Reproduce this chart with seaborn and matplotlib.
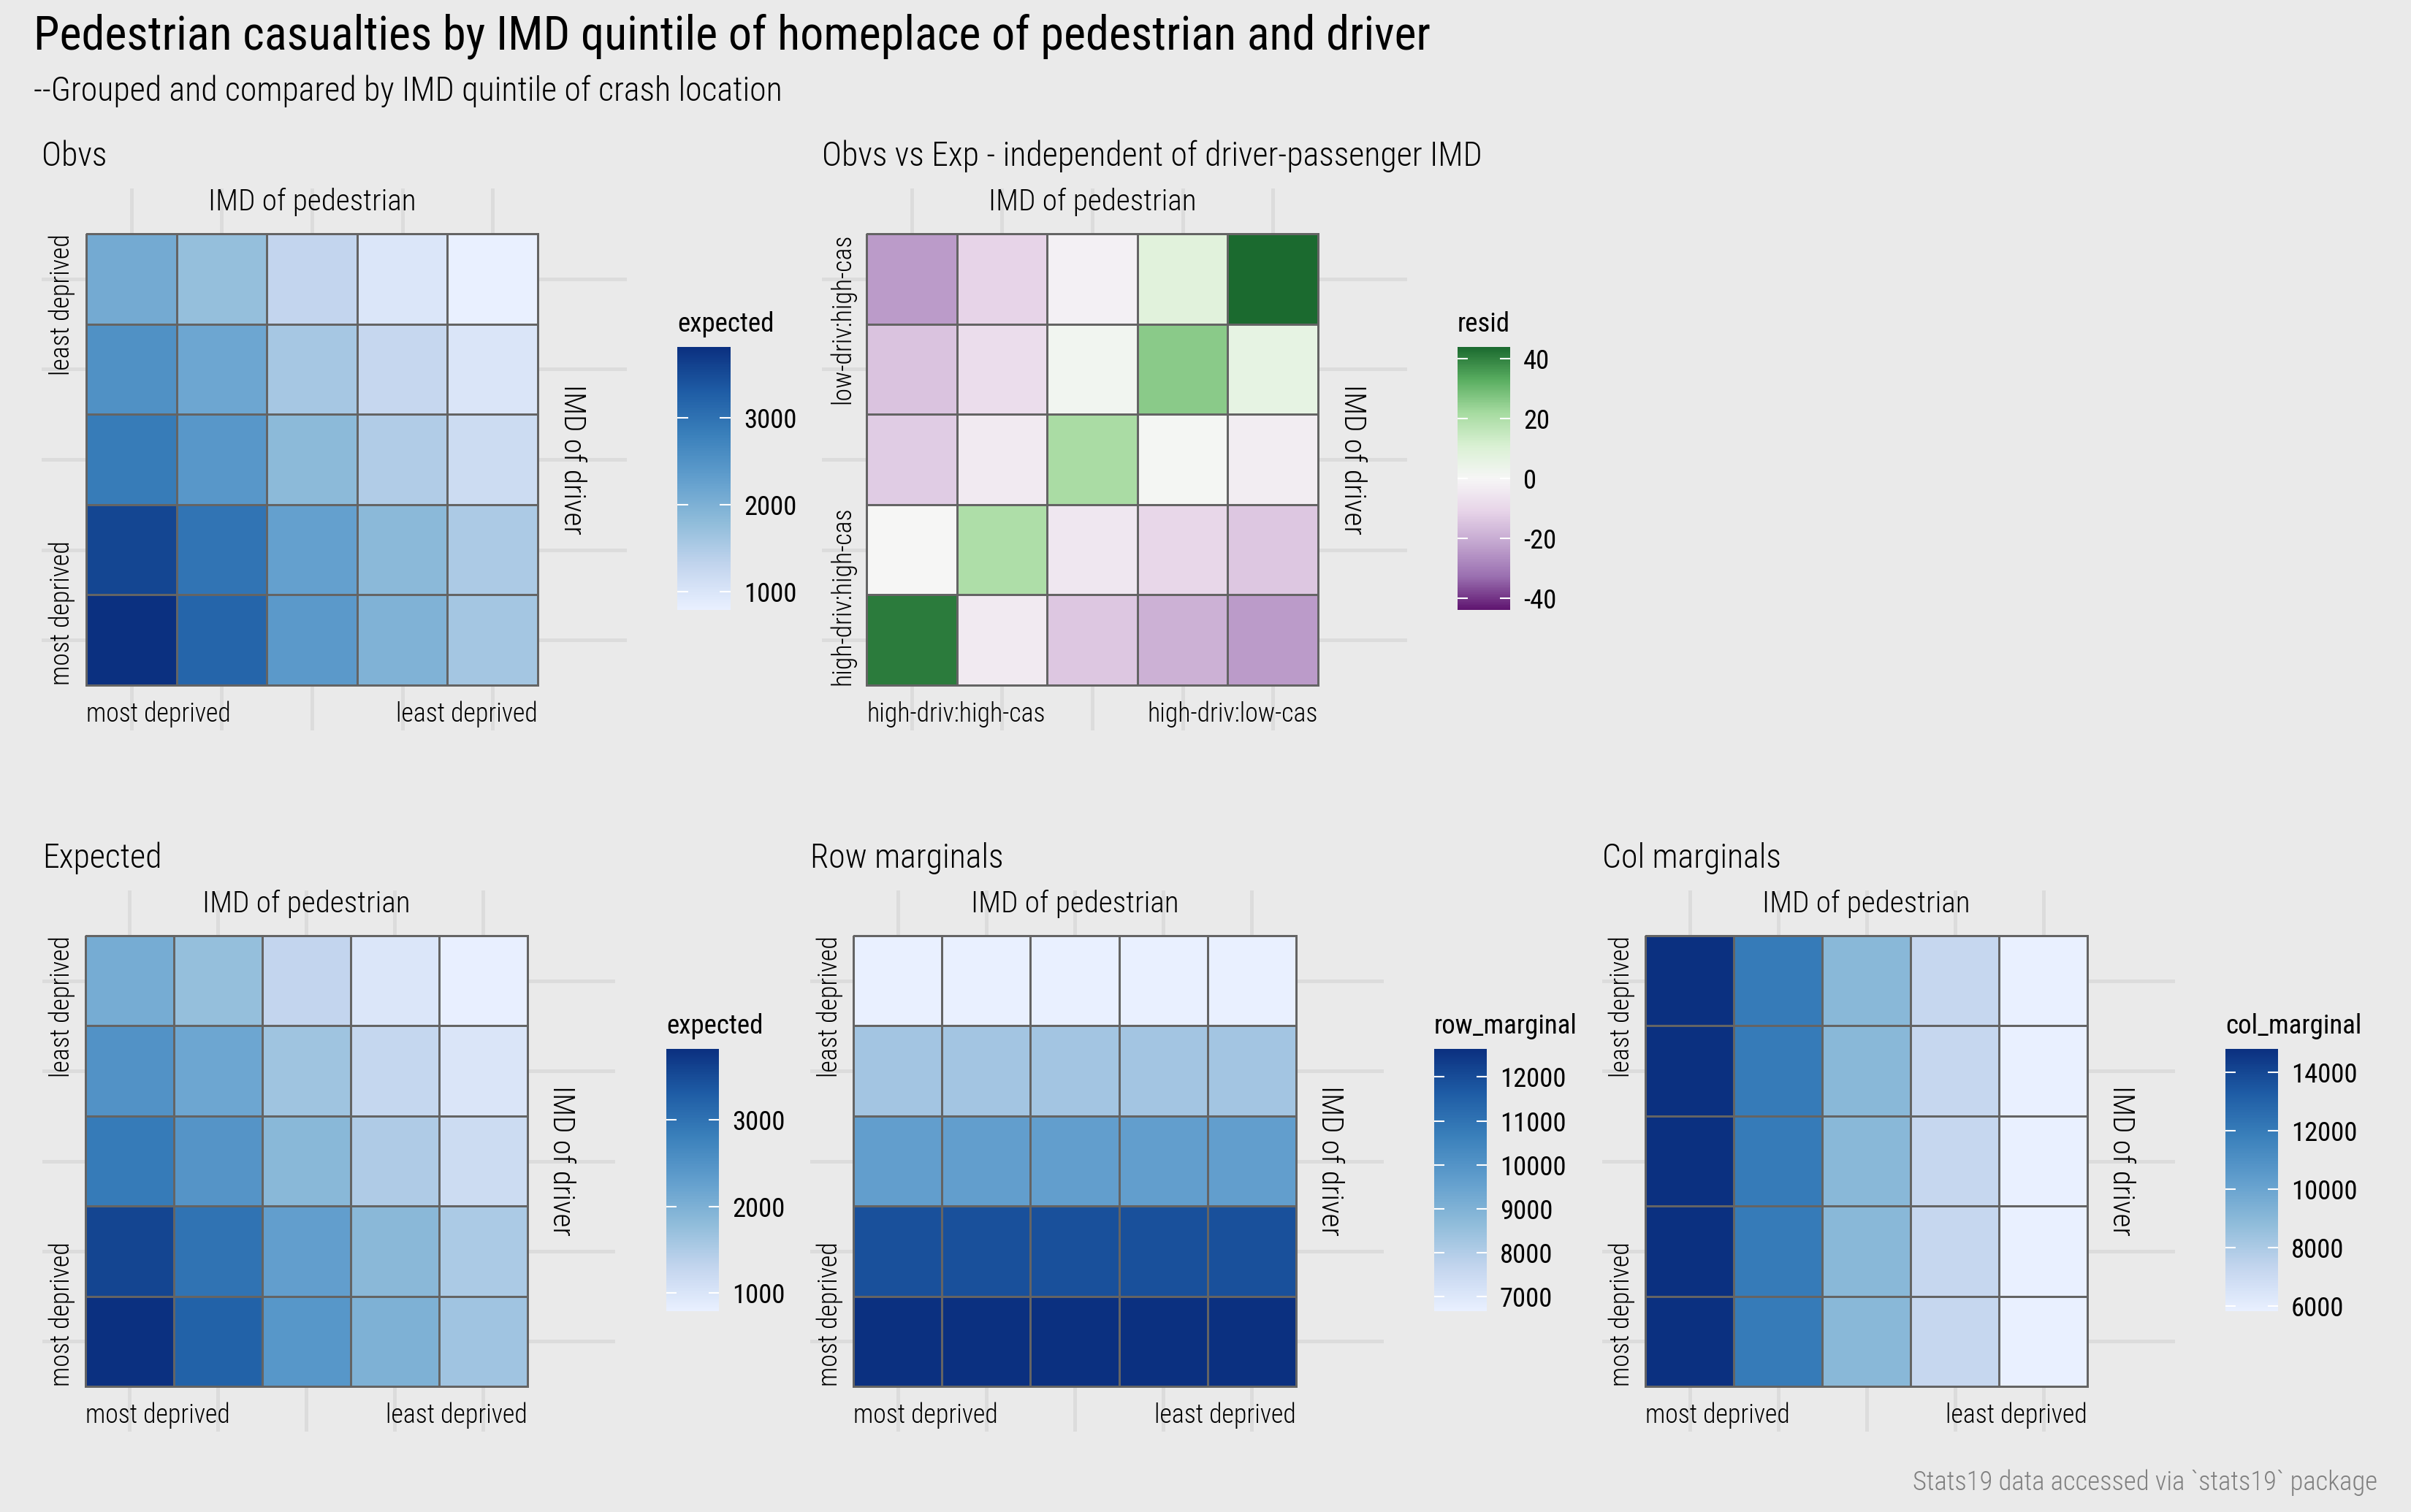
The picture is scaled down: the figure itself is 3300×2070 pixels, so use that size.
import numpy as np
import seaborn as sns
from matplotlib import pyplot as plt

W, H = 3300, 2070

obvs = np.array([
    [2100, 1740, 1290, 980, 790],
    [2520, 2170, 1580, 1250, 1000],
    [2870, 2420, 1840, 1470, 1170],
    [3560, 2970, 2270, 1850, 1520],
    [3817, 3180, 2380, 1960, 1600],
])
expected = np.array([
    [2080, 1740, 1290, 990, 810],
    [2500, 2170, 1650, 1270, 1000],
    [2880, 2470, 1870, 1490, 1180],
    [3570, 2990, 2300, 1860, 1530],
    [3817, 3230, 2430, 1990, 1640],
])
resid = np.array([
    [-24, -11, -2, 8, 44],
    [-15, -8, 2, 26, 6],
    [-13, -4, 21, 1, -3],
    [0, 20, -5, -10, -14],
    [41, -4, -14, -19, -24],
])
row_marginal = np.array([
    [6668, 6668, 6668, 6668, 6668],
    [8300, 8300, 8300, 8300, 8300],
    [9650, 9650, 9650, 9650, 9650],
    [11900, 11900, 11900, 11900, 11900],
    [12640, 12640, 12640, 12640, 12640],
])
col_marginal = np.array([
    [14800, 12000, 9050, 7200, 5825],
    [14800, 12000, 9050, 7200, 5825],
    [14800, 12000, 9050, 7200, 5825],
    [14800, 12000, 9050, 7200, 5825],
    [14800, 12000, 9050, 7200, 5825],
])

title = "Pedestrian casualties by IMD quintile of homeplace of pedestrian and driver"
subtitle = "--Grouped and compared by IMD quintile of crash location"
caption = "Stats19 data accessed via `stats19` package"

BG = "#eaeaea"
sns.set_theme(style="white", rc={"figure.facecolor": BG, "axes.facecolor": BG, "text.color": "black",
                                 "axes.unicode_minus": False})
plt.rcParams["font.family"] = ["Roboto Condensed", "Roboto", "DejaVu Sans"]

blues = sns.blend_palette(["#e9f0ff", "#c3d5ee", "#8fbcda", "#619ecd", "#3a80bb", "#1e5ca5", "#0b3080"], n_colors=256, as_cmap=True)
prgn = sns.blend_palette(["#5f1570", "#9a6fb0", "#c2a5cf", "#e7d4e8", "#f6f6f6", "#d9f0d3", "#a6dba0", "#5aae61", "#1b6a2f"], n_colors=256, as_cmap=True)

fig = plt.figure(figsize=(W / 300, H / 300), dpi=300)


def px_axes(left, top, right, bottom):
    return fig.add_axes([left / W, 1 - bottom / H, (right - left) / W, (bottom - top) / H])


def panel(values, cmap, heat, bar, vmin, vmax, ticks, name, label, low, high):
    # heat and bar are pixel boxes: left, top, right, bottom
    cell_w = (heat[2] - heat[0]) / 5
    cell_h = (heat[3] - heat[1]) / 5
    ax = px_axes(heat[0] - 0.49 * cell_w, heat[1] - 0.5 * cell_h, heat[2] + 0.99 * cell_w, heat[3] + 0.5 * cell_h)
    cax = px_axes(*bar)
    sns.heatmap(values, ax=ax, cbar_ax=cax, cmap=cmap, vmin=vmin, vmax=vmax,
                linewidths=0.35, linecolor="#646464", xticklabels=False, yticklabels=False,
                cbar_kws={"ticks": ticks})
    ax.set_xlim(-0.49, 5.99)
    ax.set_ylim(5.5, -0.5)
    ax.set_xticks(np.arange(5) + 0.5)
    ax.set_yticks(np.arange(5) + 0.5)
    ax.set_axisbelow(True)
    ax.grid(True, color="#dcdcdc", lw=1.2)
    ax.tick_params(length=0, labelbottom=False, labelleft=False)
    sns.despine(ax=ax, left=True, bottom=True)

    ax.text(2.5, -0.355, "IMD of pedestrian", ha="center", va="center", fontsize=9.9, weight="light")
    ax.text(5.38, 2.5, "IMD of driver", ha="center", va="center", rotation=270, fontsize=9.9, weight="light")
    ax.text(0, 5.32, low[0], ha="left", va="center", fontsize=8.6, weight="light")
    ax.text(5, 5.32, low[1], ha="right", va="center", fontsize=8.6, weight="light")
    ax.text(-0.27, 5, high[0], ha="center", va="bottom", rotation=90, fontsize=8.6, weight="light")
    ax.text(-0.27, 0, high[1], ha="center", va="top", rotation=90, fontsize=8.6, weight="light")

    cb = ax.collections[0].colorbar
    cb.outline.set_visible(False)
    cax.tick_params(length=0, pad=4.3, labelsize=8.8, labelcolor="black")
    cax.hlines(ticks, 0, 0.2, color="white", lw=0.5)
    cax.hlines(ticks, 0.8, 1, color="white", lw=0.5)
    fig.text(bar[0] / W, 1 - (bar[1] - 31) / H, name, ha="left", va="center", fontsize=8.85)
    fig.text((heat[0] - 0.49 * cell_w) / W, 1 - (heat[1] - 106) / H, label, ha="left", va="center", fontsize=11, weight="light")


deprived = ("most deprived", "least deprived")
panel(obvs, blues, (118, 320, 736, 938), (927, 475, 1000, 835), 787, 3817, [1000, 2000, 3000],
      "expected", "Obvs", deprived, deprived)
panel(resid, prgn, (1186, 320, 1804, 938), (1995, 475, 2067, 835), -44, 44, [-40, -20, 0, 20, 40],
      "resid", "Obvs vs Exp - independent of driver-passenger IMD",
      ("high-driv:high-cas", "high-driv:low-cas"), ("high-driv:high-cas", "low-driv:high-cas"))
panel(expected, blues, (117, 1281, 722, 1898), (912, 1436, 984, 1795), 793, 3817, [1000, 2000, 3000],
      "expected", "Expected", deprived, deprived)
panel(row_marginal, blues, (1168, 1281, 1774, 1898), (1963, 1436, 2035, 1795), 6668, 12640,
      [7000, 8000, 9000, 10000, 11000, 12000], "row_marginal", "Row marginals", deprived, deprived)
panel(col_marginal, blues, (2252, 1281, 2857, 1898), (3046, 1436, 3118, 1795), 5825, 14800,
      [6000, 8000, 10000, 12000, 14000], "col_marginal", "Col marginals", deprived, deprived)

fig.text(46 / W, 1 - 50 / H, title, ha="left", va="center", fontsize=15.4)
fig.text(46 / W, 1 - 125 / H, subtitle, ha="left", va="center", fontsize=11, weight="light")
fig.text(3254 / W, 1 - 2030 / H, caption, ha="right", va="center", fontsize=8.8, color="#808080", weight="light")

fig.savefig("out.png", dpi=300, facecolor=BG)
